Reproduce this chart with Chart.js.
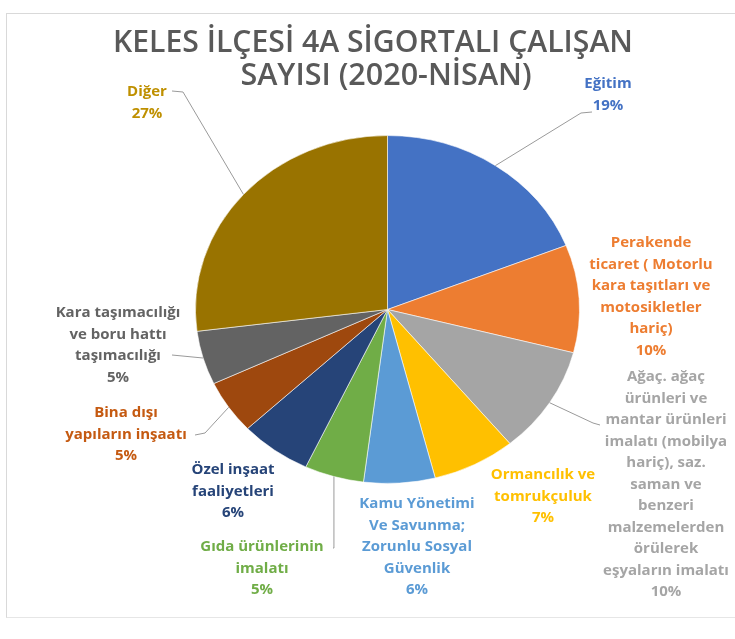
<!DOCTYPE html>
<html lang="tr">
<head>
    <meta charset="UTF-8">
    <title>Keles 4A</title>
    <script src="https://cdn.jsdelivr.net/npm/chart.js"></script>
    <style>
        body {
            margin: 0;
            padding: 0;
            background: #fff;
        }
        #wrap {
            position: relative;
            width: 735px;
            height: 639px;
        }
        #frame {
            position: absolute;
            left: 6px;
            top: 13px;
            width: 735px;
            height: 603px;
            border-left: 1px solid #d9d9d9;
            border-top: 1px solid #d9d9d9;
            border-bottom: 1px solid #e6e6e6;
        }
        canvas {
            position: absolute;
            left: 0;
            top: 0;
        }
    </style>
</head>
<body>
<div id="wrap">
    <div id="frame"></div>
    <canvas id="pie" width="735" height="639"></canvas>
</div>

<script>
    const categories = [
        'Eğitim',
        'Perakende ticaret ( Motorlu kara taşıtları ve motosikletler hariç)',
        'Ağaç. ağaç ürünleri ve mantar ürünleri imalatı (mobilya hariç), saz. saman ve benzeri malzemelerden örülerek eşyaların imalatı',
        'Ormancılık ve tomrukçuluk',
        'Kamu Yönetimi Ve Savunma; Zorunlu Sosyal Güvenlik',
        'Gıda ürünlerinin imalatı',
        'Özel inşaat faaliyetleri',
        'Bina dışı yapıların inşaatı',
        'Kara taşımacılığı ve boru hattı taşımacılığı',
        'Diğer'
    ];
    const percents = [19, 10, 10, 7, 6, 5, 6, 5, 5, 27];

    // label text as it wraps in the original
    const labelLines = [
        ['Eğitim'],
        ['Perakende', 'ticaret ( Motorlu', 'kara taşıtları ve', 'motosikletler', 'hariç)'],
        ['Ağaç. ağaç', 'ürünleri ve', 'mantar ürünleri', 'imalatı (mobilya', 'hariç), saz.', 'saman ve', 'benzeri', 'malzemelerden', 'örülerek', 'eşyaların imalatı'],
        ['Ormancılık ve', 'tomrukçuluk'],
        ['Kamu Yönetimi', 'Ve Savunma;', 'Zorunlu Sosyal', 'Güvenlik'],
        ['Gıda ürünlerinin', 'imalatı'],
        ['Özel inşaat', 'faaliyetleri'],
        ['Bina dışı', 'yapıların inşaatı'],
        ['Kara taşımacılığı', 've boru hattı', 'taşımacılığı'],
        ['Diğer']
    ];

    const sliceColors = ['#4472C4', '#ED7D31', '#A5A5A5', '#FFC000', '#5B9BD5', '#70AD47', '#264478', '#9E480E', '#636363', '#997300'];
    const textColors  = ['#4472C4', '#ED7D31', '#A5A5A5', '#FFC000', '#5B9BD5', '#70AD47', '#264478', '#C55A11', '#636363', '#BF9000'];

    // where each label sits (center x, first line y) and its leader line on the label side
    const labelPos = [
        [608, 84], [651, 243], [666, 377], [543, 475], [417, 504],
        [262, 547], [233, 470], [126, 413], [118, 313], [147, 92]
    ];
    // 'arc' = take the x of the slice edge point (vertical drop)
    const leaders = [
        [[592, 112], [581, 113]],
        null,
        [[600, 425], [593, 423]],
        null,
        null,
        [[333, 548], ['arc', 548]],
        null,
        [[195, 435], [205, 433]],
        [[172, 355]],
        [[172, 91], [183, 92]]
    ];
    const lineGap = 21.5;
    const yScale = 0.906; // the pie in the picture is squashed vertically

    const squash = {
        id: 'squash',
        beforeDatasetsDraw(chart) {
            const a = chart.getDatasetMeta(0).data[0];
            const ctx = chart.ctx;
            ctx.save();
            ctx.translate(a.x, a.y);
            ctx.scale(1, yScale);
            ctx.translate(-a.x, -a.y);
        },
        afterDatasetsDraw(chart) {
            chart.ctx.restore();
        }
    };

    const labels = {
        id: 'labels',
        afterDraw(chart) {
            const ctx = chart.ctx;
            const arcs = chart.getDatasetMeta(0).data;

            // title
            ctx.save();
            ctx.fillStyle = '#595959';
            ctx.font = '600 30.5px "Open Sans"';
            ctx.textAlign = 'center';
            ctx.textBaseline = 'middle';
            ctx.fillText('KELES İLÇESİ 4A SİGORTALI ÇALIŞAN', 373, 43, 520);
            ctx.fillText('SAYISI (2020-NİSAN)', 386, 76, 520);
            ctx.restore();

            arcs.forEach((arc, i) => {
                const mid = (arc.startAngle + arc.endAngle) / 2;
                const px = arc.x + Math.cos(mid) * arc.outerRadius;
                const py = arc.y + Math.sin(mid) * arc.outerRadius * yScale;

                if (leaders[i]) {
                    ctx.save();
                    ctx.strokeStyle = '#9a9a9a';
                    ctx.lineWidth = 1;
                    ctx.beginPath();
                    leaders[i].forEach((p, k) => {
                        const x = p[0] === 'arc' ? px : p[0];
                        if (k === 0) ctx.moveTo(x, p[1]); else ctx.lineTo(x, p[1]);
                    });
                    ctx.lineTo(px, py);
                    ctx.stroke();
                    ctx.restore();
                }

                const lines = labelLines[i].concat([percents[i] + '%']);
                ctx.save();
                ctx.fillStyle = textColors[i];
                ctx.font = '700 15px "Open Sans"';
                ctx.textAlign = 'center';
                ctx.textBaseline = 'middle';
                lines.forEach((t, k) => {
                    ctx.fillText(t, labelPos[i][0], labelPos[i][1] + k * lineGap, 138);
                });
                ctx.restore();
            });
        }
    };

    new Chart(document.getElementById('pie'), {
        type: 'pie',
        data: {
            labels: categories,
            datasets: [{
                data: percents,
                backgroundColor: sliceColors,
                borderColor: 'rgba(255,255,255,0.6)',
                borderWidth: 1
            }]
        },
        options: {
            responsive: false,
            animation: false,
            layout: {
                padding: { left: 195, right: 155, top: 117, bottom: 137 }
            },
            plugins: {
                legend: { display: false },
                tooltip: { enabled: false },
                title: { display: false }
            }
        },
        plugins: [squash, labels]
    });
</script>
</body>
</html>
